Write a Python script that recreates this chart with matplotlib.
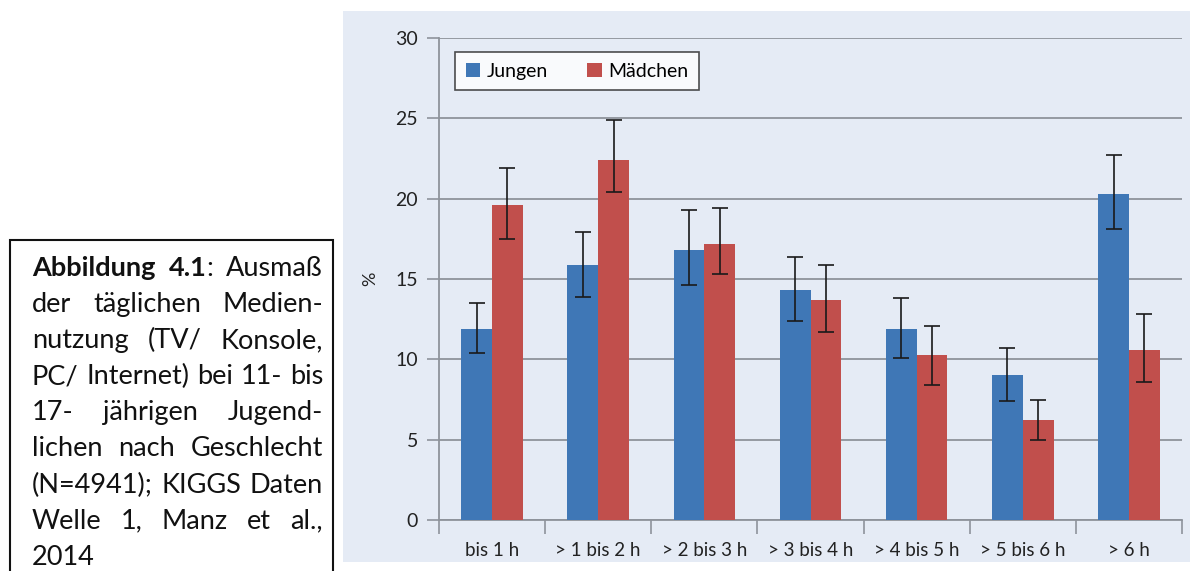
import matplotlib
matplotlib.use("Agg")
import numpy as np
import matplotlib.pyplot as plt
from matplotlib.patches import Rectangle, Patch

# data
categories = ["bis 1 h", "> 1 bis 2 h", "> 2 bis 3 h", "> 3 bis 4 h",
              "> 4 bis 5 h", "> 5 bis 6 h", "> 6 h"]
jungen = [11.9, 15.9, 16.8, 14.3, 11.9, 9.0, 20.3]
jungen_lo = [10.4, 13.9, 14.6, 12.4, 10.1, 7.4, 18.1]
jungen_hi = [13.5, 17.9, 19.3, 16.4, 13.8, 10.7, 22.7]
maedchen = [19.6, 22.4, 17.2, 13.7, 10.3, 6.2, 10.6]
maedchen_lo = [17.5, 20.4, 15.3, 11.7, 8.4, 5.0, 8.6]
maedchen_hi = [21.9, 24.9, 19.4, 15.9, 12.1, 7.5, 12.8]
y_ticks = [0, 5, 10, 15, 20, 25, 30]

caption_lines = [
    [[("Abbildung", "bold")], [("4.1", "bold"), (":", "normal")], [("Ausmaß", "normal")]],
    "der täglichen Medien-",
    "nutzung (TV/ Konsole,",
    "PC/ Internet) bei 11- bis",
    "17- jährigen Jugend-",
    "lichen nach Geschlecht",
    "(N=4941); KIGGS Daten",
    "Welle 1, Manz et al.,",
    "2014",
]

BLUE = "#3f77b6"
RED = "#c14f4c"
GRID = "#8e939b"
FONT = "Lato"

fig = plt.figure(figsize=(11.9, 5.71), dpi=100)
W, H = 1190, 571

# light panel behind the chart
fig.patches.append(Rectangle((343 / W, 1 - 562 / H), 847 / W, 551 / H,
                             transform=fig.transFigure, facecolor="#e5ebf5",
                             edgecolor="none", zorder=-1))

ax = fig.add_axes([439 / W, 1 - 520 / H, 743 / W, 482 / H])
ax.set_zorder(1)
ax.patch.set_visible(False)

x = np.arange(len(categories))
bw = 0.29
jerr = [np.array(jungen) - np.array(jungen_lo), np.array(jungen_hi) - np.array(jungen)]
merr = [np.array(maedchen) - np.array(maedchen_lo), np.array(maedchen_hi) - np.array(maedchen)]
ax.bar(x - bw / 2, jungen, bw, color=BLUE, zorder=3, label="Jungen")
ax.bar(x + bw / 2, maedchen, bw, color=RED, zorder=3, label="Mädchen")
ax.errorbar(x - bw / 2, jungen, yerr=jerr, fmt="none", ecolor="#1a1a1a",
            elinewidth=1.2, capsize=6, capthick=1.2, zorder=4)
ax.errorbar(x + bw / 2, maedchen, yerr=merr, fmt="none", ecolor="#1a1a1a",
            elinewidth=1.2, capsize=6, capthick=1.2, zorder=4)

ax.set_xlim(-0.5, len(categories) - 0.5)
ax.set_ylim(0, 30)
ax.set_yticks(y_ticks)
ax.set_yticklabels([str(t) for t in y_ticks], fontsize=14, family=FONT, color="#222222")
ax.yaxis.grid(True, color=GRID, linewidth=1.3, zorder=1)
ax.set_axisbelow(True)
ax.tick_params(axis="y", length=9, width=1.2, color=GRID, pad=6)

ax.set_xticks(x)
ax.set_xticklabels(categories, fontsize=13.5, family=FONT, color="#222222")
ax.set_xticks(np.arange(len(categories) + 1) - 0.5, minor=True)
ax.tick_params(axis="x", which="major", length=0, pad=16)
ax.tick_params(axis="x", which="minor", length=10, width=1.2, color=GRID)

for s in ["top", "right"]:
    ax.spines[s].set_visible(False)
for s in ["left", "bottom"]:
    ax.spines[s].set_color(GRID)
    ax.spines[s].set_linewidth(1.3)

ax.set_ylabel("%", fontsize=13, family=FONT, color="#222222", labelpad=12)

handles = [Patch(facecolor=BLUE, label="Jungen"), Patch(facecolor=RED, label="Mädchen")]
leg = ax.legend(handles=handles, loc="upper left", bbox_to_anchor=(16 / 743, 1 - 14 / 482),
                ncol=2, frameon=True, fancybox=False, prop={"family": FONT, "size": 14},
                handlelength=0.75, handleheight=0.75, handletextpad=0.35, columnspacing=2.0,
                borderpad=0.55, borderaxespad=0)
leg.get_frame().set_edgecolor("#222222")
leg.get_frame().set_linewidth(1.2)

# caption box on the left, justified lines
fig.patches.append(Rectangle((10 / W, -0.02), 323 / W, 1 - 240 / H + 0.02,
                             transform=fig.transFigure, facecolor="white",
                             edgecolor="#111111", linewidth=1.5, zorder=0))

renderer = fig.canvas.get_renderer()
cap_size = 19.5
x_left, x_right = 32, 323
line_y0, line_dy = 276, 36.1

for i, line in enumerate(caption_lines):
    if isinstance(line, str):
        words = [[(w, "normal")] for w in line.split(" ")]
    else:
        words = line
    base = 1 - (line_y0 + i * line_dy) / H
    texts = []
    widths = []
    for word in words:
        parts = []
        wsum = 0
        for seg, weight in word:
            t = fig.text(0, base, seg, fontsize=cap_size, family=FONT, fontweight=weight,
                         va="baseline", ha="left", color="#111111", zorder=2)
            bb = t.get_window_extent(renderer)
            parts.append((t, bb.width))
            wsum += bb.width
        texts.append(parts)
        widths.append(wsum)
    last = i == len(caption_lines) - 1
    if len(words) > 1 and not last:
        gap = (x_right - x_left - sum(widths)) / (len(words) - 1)
    else:
        gap = 5
    pos = x_left
    for parts, wsum in zip(texts, widths):
        p = pos
        for t, w in parts:
            t.set_x(p / W)
            p += w
        pos += wsum + gap

fig.savefig("out.png", dpi=100)
